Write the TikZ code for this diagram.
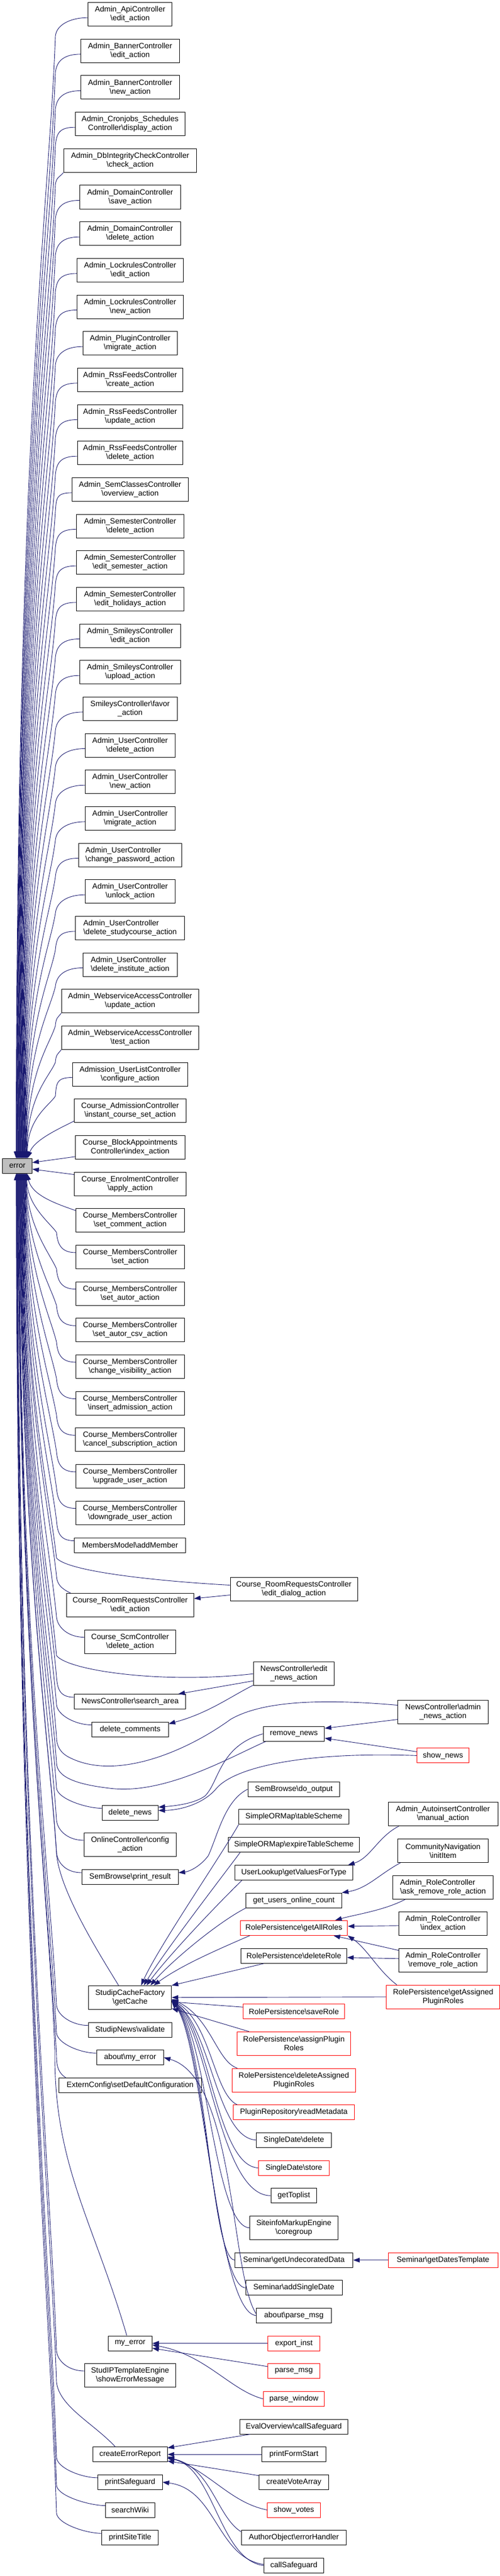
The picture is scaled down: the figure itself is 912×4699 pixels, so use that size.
\documentclass[tikz,border=0pt]{standalone}
\usepackage{fontspec}
\setmainfont{Liberation Sans}
\usetikzlibrary{arrows.meta,calc}
\definecolor{eblue}{RGB}{25,25,112}
\definecolor{nred}{RGB}{255,0,0}
\definecolor{errgray}{RGB}{191,191,191}
\newcommand\bsl{\textbackslash}
\newcommand\dfont{\fontsize{14}{16}\selectfont}
% upper edges into error (from west)
\newcommand\EU[3]{\draw[cedge] ($(#1.west)+(0,6)$) .. controls +(-30,0) and (103,{#2+18}) .. (101,{#2+40})
  .. controls (90,{#2+40+0.15*(2073-#2)}) and ({5+#3},{#2+40+0.35*(2073-#2)}) .. ($(error.north west)+(#3,0)$);}
% upper edges from wide nodes (south west corner)
\newcommand\EUc[3]{\draw[cedge] (#1.south west) .. controls +(-6,8) and (102,{#2+30}) .. (101,{#2+45})
  .. controls (90,{#2+45+0.15*(2068-#2)}) and ({5+#3},{#2+45+0.35*(2068-#2)}) .. ($(error.north west)+(#3,0)$);}
% lower edges into error
\newcommand\ED[3]{\draw[cedge] ($(#1.west)+(0,-8)$) .. controls +(-28,0) and (105,{#2-25}) .. (103,{#2-45})
  .. controls (92,{#2-45-0.15*(#2-2185)}) and ({5+#3},{#2-45-0.45*(#2-2185)}) .. ($(error.south west)+(#3,0)$);}
% lower edges with custom beginning ending at (103,#2)
\newcommand\EDX[3]{\draw[cedge] #1 .. controls (92,{#2-0.15*(#2-2140)}) and ({5+#3},{#2-0.45*(#2-2140)}) .. ($(error.south west)+(#3,0)$);}
\begin{document}
\begin{tikzpicture}[x=1pt,y=-1pt,
 bx/.style={draw=black, line width=1pt, fill=white, align=center, font=\dfont, inner xsep=2pt, inner ysep=1pt, minimum height=43pt},
 one/.style={minimum height=27pt},
 rbx/.style={bx, draw=nred},
 mw/.style={minimum width=#1pt},
 cedge/.style={draw=eblue, line width=0.9pt, -{Triangle[length=12pt,width=8.5pt]}}]
\fill[white] (0,0) rectangle (912,4699);
\useasboundingbox (0,0) rectangle (912,4699);

% ---------- left column ----------
\node[bx,mw=153.1] (a1) at (237.3,26.2) {Admin\_ApiController\\\bsl edit\_action};
\node[bx,mw=179.5] (a2) at (237.3,92.9) {Admin\_BannerController\\\bsl edit\_action};
\node[bx,mw=179.5] (a3) at (237.3,159.5) {Admin\_BannerController\\\bsl new\_action};
\node[bx,mw=199.9] (a4) at (237.3,226.2) {Admin\_Cronjobs\_Schedules\\Controller\bsl display\_action};
\node[bx,mw=242.6] (a5) at (237.3,292.9) {Admin\_DbIntegrityCheckController\\\bsl check\_action};
\node[bx,mw=183.5] (a6) at (237.3,359.5) {Admin\_DomainController\\\bsl save\_action};
\node[bx,mw=183.5] (a7) at (237.3,426.2) {Admin\_DomainController\\\bsl delete\_action};
\node[bx,mw=193.5] (a8) at (237.3,492.9) {Admin\_LockrulesController\\\bsl edit\_action};
\node[bx,mw=193.5] (a9) at (237.3,559.5) {Admin\_LockrulesController\\\bsl new\_action};
\node[bx,mw=171.9] (a10) at (237.3,626.2) {Admin\_PluginController\\\bsl migrate\_action};
\node[bx,mw=192.3] (a11) at (237.3,692.9) {Admin\_RssFeedsController\\\bsl create\_action};
\node[bx,mw=192.3] (a12) at (237.3,759.5) {Admin\_RssFeedsController\\\bsl update\_action};
\node[bx,mw=192.3] (a13) at (237.3,826.2) {Admin\_RssFeedsController\\\bsl delete\_action};
\node[bx,mw=212.2] (a14) at (237.3,892.9) {Admin\_SemClassesController\\\bsl overview\_action};
\node[bx,mw=196.4] (a15) at (237.3,959.5) {Admin\_SemesterController\\\bsl delete\_action};
\node[bx,mw=196.4] (a16) at (237.3,1026.2) {Admin\_SemesterController\\\bsl edit\_semester\_action};
\node[bx,mw=196.4] (a17) at (237.3,1092.9) {Admin\_SemesterController\\\bsl edit\_holidays\_action};
\node[bx,mw=183.5] (a18) at (237.3,1159.5) {Admin\_SmileysController\\\bsl edit\_action};
\node[bx,mw=183.5] (a19) at (237.3,1226.2) {Admin\_SmileysController\\\bsl upload\_action};
\node[bx,mw=171.9] (a20) at (237.3,1292.9) {SmileysController\bsl favor\\\_action};
\node[bx,mw=163.7] (a21) at (237.3,1359.5) {Admin\_UserController\\\bsl delete\_action};
\node[bx,mw=163.7] (a22) at (237.3,1426.2) {Admin\_UserController\\\bsl new\_action};
\node[bx,mw=163.7] (a23) at (237.3,1492.9) {Admin\_UserController\\\bsl migrate\_action};
\node[bx,mw=187.7,align=left] (a24) at (237.3,1559.5) {Admin\_UserController\\\bsl change\_password\_action};
\node[bx,mw=163.7] (a25) at (237.3,1626.2) {Admin\_UserController\\\bsl unlock\_action};
\node[bx,mw=198.7,align=left] (a26) at (237.3,1692.9) {Admin\_UserController\\\bsl delete\_studycourse\_action};
\node[bx,mw=171.9,align=left] (a27) at (237.3,1759.5) {Admin\_UserController\\\bsl delete\_institute\_action};
\node[bx,mw=250.3] (a28) at (237.3,1826.2) {Admin\_WebserviceAccessController\\\bsl update\_action};
\node[bx,mw=250.3] (a29) at (237.3,1892.9) {Admin\_WebserviceAccessController\\\bsl test\_action};
\node[bx,mw=210.5] (a30) at (237.3,1959.5) {Admission\_UserListController\\\bsl configure\_action};
\node[bx,mw=204] (a31) at (237.3,2026.2) {Course\_AdmissionController\\\bsl instant\_course\_set\_action};
\node[bx,mw=199.9] (a32) at (237.3,2092.9) {Course\_BlockAppointments\\Controller\bsl index\_action};
\node[bx,mw=204] (a33) at (237.3,2159.5) {Course\_EnrolmentController\\\bsl apply\_action};
\node[bx,mw=197.6] (a34) at (237.3,2226.2) {Course\_MembersController\\\bsl set\_comment\_action};
\node[bx,mw=197.6] (a35) at (237.3,2292.9) {Course\_MembersController\\\bsl set\_action};
\node[bx,mw=197.6] (a36) at (237.3,2359.5) {Course\_MembersController\\\bsl set\_autor\_action};
\node[bx,mw=197.6] (a37) at (237.3,2426.2) {Course\_MembersController\\\bsl set\_autor\_csv\_action};
\node[bx,mw=197.6] (a38) at (237.3,2492.9) {Course\_MembersController\\\bsl change\_visibility\_action};
\node[bx,mw=197.6] (a39) at (237.3,2559.5) {Course\_MembersController\\\bsl insert\_admission\_action};
\node[bx,mw=198.7] (a40) at (237.3,2626.2) {Course\_MembersController\\\bsl cancel\_subscription\_action};
\node[bx,mw=197.6] (a41) at (237.3,2692.9) {Course\_MembersController\\\bsl upgrade\_user\_action};
\node[bx,mw=197.6] (a42) at (237.3,2759.5) {Course\_MembersController\\\bsl downgrade\_user\_action};
\node[bx,one,mw=202.9] (addm) at (237.3,2818.5) {MembersModel\bsl addMember};
\node[bx,mw=232] (rre) at (237.3,2928) {Course\_RoomRequestsController\\\bsl edit\_action};
\node[bx,mw=166.6] (scm) at (237.3,2994.5) {Course\_ScmController\\\bsl delete\_action};
\node[bx,one,mw=202.9] (sa) at (237.3,3104) {NewsController\bsl search\_area};
\node[bx,one,mw=139.7] (dc) at (237.3,3154.5) {delete\_comments};
\node[bx,one,mw=102.3] (dn) at (237.3,3306.5) {delete\_news};
\node[bx,mw=167.8] (occ) at (237.3,3365) {OnlineController\bsl config\\\_action};
\node[bx,one,mw=175.5] (spr) at (237.3,3424) {SemBrowse\bsl print\_result};
\node[bx,mw=150.8] (gc) at (237.3,3643.7) {StudipCacheFactory\\\bsl getCache};
\node[bx,one,mw=151.4] (snv) at (237.3,3702.7) {StudipNews\bsl validate};
\node[bx,one,mw=122.2] (ame) at (237.3,3753.2) {about\bsl my\_error};
\node[bx,one,mw=260.1] (ecd) at (237.3,3803.8) {ExternConfig\bsl setDefaultConfiguration};
\node[bx,one,mw=80.1] (me) at (237.3,4274.5) {my\_error};
\node[bx,mw=165.5] (tem) at (237.3,4333) {StudIPTemplateEngine\\\bsl showErrorMessage};
\node[bx,one,mw=135.7] (cer) at (237.3,4477.2) {createErrorReport};
\node[bx,one,mw=117.5] (ps) at (237.3,4527.8) {printSafeguard};
\node[bx,one,mw=90] (sw) at (237.3,4578.5) {searchWiki};
\node[bx,one,mw=102.9] (pst) at (237.3,4629.2) {printSiteTitle};

\node[bx,one,mw=53.5,fill=errgray] (error) at (31.7,2126.7) {error};

% ---------- middle column ----------
\node[bx,mw=232] (rrd) at (536,2898.5) {Course\_RoomRequestsController\\\bsl edit\_dialog\_action};
\node[bx,mw=147.9] (nen) at (536,3053.2) {NewsController\bsl edit\\\_news\_action};
\node[bx,one,mw=111.6] (rn) at (536,3162.7) {remove\_news};
\node[bx,one,mw=167.8] (sdo) at (536,3263.8) {SemBrowse\bsl do\_output};
\node[bx,one,mw=200.5] (ots) at (536,3314.3) {SimpleORMap\bsl tableScheme};
\node[bx,one,mw=239.1] (oets) at (536,3365.2) {SimpleORMap\bsl expireTableScheme};
\node[bx,one,mw=214.5] (ul) at (536,3416) {UserLookup\bsl getValuesForType};
\node[bx,one,mw=174.2] (guoc) at (536,3466.5) {get\_users\_online\_count};
\node[rbx,one,mw=195.8] (gar) at (536,3516.8) {RolePersistence\bsl getAllRoles};
\node[bx,one,mw=193] (dr) at (536,3567.8) {RolePersistence\bsl deleteRole};
\node[rbx,one,mw=184.8] (sr) at (536,3669.2) {RolePersistence\bsl saveRole};
\node[rbx,mw=206.4] (apr) at (536,3727.8) {RolePersistence\bsl assignPlugin\\Roles};
\node[rbx,mw=225.7] (dapr) at (536,3794.5) {RolePersistence\bsl deleteAssigned\\PluginRoles};
\node[rbx,one,mw=221.6] (prm) at (536,3853.3) {PluginRepository\bsl readMetadata};
\node[bx,one,mw=136.3] (sdd) at (536,3903.8) {SingleDate\bsl delete};
\node[rbx,one,mw=129.8] (sds) at (536,3954.5) {SingleDate\bsl store};
\node[bx,one,mw=83.6] (gtl) at (536,4005.2) {getToplist};
\node[bx,mw=161.4] (sme) at (536,4063.8) {SiteinfoMarkupEngine\\\bsl coregroup};
\node[bx,one,mw=215.2] (sgu) at (536,4122.7) {Seminar\bsl getUndecoratedData};
\node[bx,one,mw=176] (sas) at (536,4173.2) {Seminar\bsl addSingleDate};
\node[bx,one,mw=136.3] (apm) at (536,4223.8) {about\bsl parse\_msg};
\node[rbx,one,mw=94.2] (ei) at (536,4274.5) {export\_inst};
\node[rbx,one,mw=94.2] (pm) at (536,4324.9) {parse\_msg};
\node[rbx,one,mw=111.6] (pw) at (536,4375.8) {parse\_window};
\node[bx,one,mw=197] (eoc) at (536,4426.5) {EvalOverview\bsl callSafeguard};
\node[bx,one,mw=116.4] (pfs) at (536,4477.2) {printFormStart};
\node[bx,one,mw=126.8] (cva) at (536,4527.8) {createVoteArray};
\node[rbx,one,mw=96.4] (svo) at (536,4578.5) {show\_votes};
\node[bx,one,mw=191.8] (aoe) at (536,4629.2) {AuthorObject\bsl errorHandler};
\node[bx,one,mw=109.4] (cs) at (536,4679.8) {callSafeguard};

% ---------- right column ----------
\node[bx,mw=164.3] (nan) at (808,3122.5) {NewsController\bsl admin\\\_news\_action};
\node[rbx,one,mw=94.1] (sn) at (808,3202.4) {show\_news};
\node[bx,mw=200] (aim) at (808,3309.2) {Admin\_AutoinsertController\\\bsl manual\_action};
\node[bx,mw=164.3] (cni) at (808,3376) {CommunityNavigation\\\bsl initItem};
\node[bx,mw=182.4,align=left] (arr) at (808,3442.7) {Admin\_RoleController\\\bsl ask\_remove\_role\_action};
\node[bx,mw=160.2] (ari) at (808,3508.7) {Admin\_RoleController\\\bsl index\_action};
\node[bx,mw=160.2] (arm) at (808,3575.8) {Admin\_RoleController\\\bsl remove\_role\_action};
\node[rbx,mw=207.5] (gapr) at (808.2,3642.7) {RolePersistence\bsl getAssigned\\PluginRoles};
\node[rbx,one,mw=200] (sgd) at (808,4122.7) {Seminar\bsl getDatesTemplate};

% ---------- edges into error (upper) ----------
\EU{a1}{26.2}{25}
\EU{a2}{92.9}{25.7}
\EU{a3}{159.5}{26.4}
\EU{a4}{226.2}{27.1}
\EUc{a5}{292.9}{27.8}
\EU{a6}{359.5}{28.5}
\EU{a7}{426.2}{29.2}
\EU{a8}{492.9}{29.9}
\EU{a9}{559.5}{30.6}
\EU{a10}{626.2}{31.3}
\EU{a11}{692.9}{32}
\EU{a12}{759.5}{32.7}
\EU{a13}{826.2}{33.4}
\EU{a14}{892.9}{34.1}
\EU{a15}{959.5}{34.8}
\EU{a16}{1026.2}{35.5}
\EU{a17}{1092.9}{36.2}
\EU{a18}{1159.5}{36.9}
\EU{a19}{1226.2}{37.6}
\EU{a20}{1292.9}{38.3}
\EU{a21}{1359.5}{39}
\EU{a22}{1426.2}{39.7}
\EU{a23}{1492.9}{40.4}
\EU{a24}{1559.5}{41.1}
\EU{a25}{1626.2}{41.8}
\EU{a26}{1692.9}{42.5}
\EU{a27}{1759.5}{43.2}
\EUc{a28}{1826.2}{43.9}
\EUc{a29}{1892.9}{44.6}
\EU{a30}{1959.5}{45.3}
\draw[cedge] ($(a31.south west)+(0,-3)$) .. controls (105,2060) and (62,2080) .. ($(error.north west)+(46,0)$);
\draw[cedge] ($(a32.south west)+(0,-5)$) -- ($(error.east)+(0,-6)$);
\draw[cedge] ($(a33.north west)+(0,5)$) -- ($(error.east)+(0,6)$);
\draw[cedge] ($(a34.north west)+(0,4)$) .. controls (100,2195) and (58,2180) .. ($(error.south west)+(45,0)$);

% ---------- edges into error (lower) ----------
\ED{a35}{2292.9}{44.3}
\ED{a36}{2359.5}{43.6}
\ED{a37}{2426.2}{43}
\ED{a38}{2492.9}{42.3}
\ED{a39}{2559.5}{41.6}
\ED{a40}{2626.2}{41}
\ED{a41}{2692.9}{40.3}
\ED{a42}{2759.5}{39.6}
\ED{addm}{2818.5}{39}
\EDX{($(rrd.west)+(0,-7)$) .. controls (300,2885) and (125,2868) .. (103,2842)}{2842}{38.3}
\EDX{($(rre.north west)+(8,0)$) .. controls (112,2898) and (104,2890) .. (103,2875)}{2875}{37.6}
\ED{scm}{2994.5}{37}
\EDX{(nen.west) .. controls (300,3072) and (125,3048) .. (103,3020)}{3020}{36.3}
\ED{sa}{3104}{35.6}
\ED{dc}{3154.5}{35}
\EDX{($(nan.west)+(0,-12)$) .. controls (560,3096) and (470,3108) .. (421,3136) .. controls (340,3195) and (210,3250) .. (125,3205) .. controls (110,3197) and (103,3185) .. (103,3168)}{3168}{34.3}
\EDX{($(rn.south west)+(5,0)$) .. controls (420,3205) and (300,3275) .. (200,3262) .. controls (140,3255) and (103,3242) .. (103,3215)}{3215}{33.6}
\ED{dn}{3306.5}{33}
\ED{occ}{3365}{32.3}
\EDX{($(gc.north)+(-21,0)$) .. controls (185,3570) and (108,3450) .. (103,3380)}{3380}{31.6}
\ED{spr}{3424}{31}
\ED{snv}{3702.7}{30.3}
\ED{ame}{3753.2}{29.6}
\EDX{($(ecd.north west)+(13,0)$) .. controls (108,3782) and (103,3772) .. (103,3750)}{3750}{29}
\EDX{($(me.north)+(-6,0)$) .. controls (170,4050) and (98,3950) .. (100,3740)}{3740}{28.3}
\ED{tem}{4333}{27.6}
\EDX{($(cer.north)+(-27,0)$) .. controls (170,4420) and (108,4390) .. (103,4345)}{4345}{27}
\ED{ps}{4527.8}{26.4}
\ED{sw}{4578.5}{25.8}
\ED{pst}{4629.2}{25.2}

% ---------- other edges ----------
\draw[cedge] ($(rrd.west)+(0,11)$) -- ($(rre.east)+(0,-12)$);
\draw[cedge] ($(nen.west)+(0,13)$) -- ($(sa.north east)+(-14,0)$);
\draw[cedge] ($(nen.south west)+(0,-1)$) .. controls (420,3095) and (380,3125) .. ($(dc.east)+(0,-10)$);
\draw[cedge] ($(nan.south west)+(0,-8)$) -- ($(rn.east)+(0,-10)$);
\draw[cedge] ($(sn.west)+(0,-7)$) -- ($(rn.east)+(0,8)$);
\draw[cedge] (rn.west) .. controls (400,3185) and (400,3250) .. (374,3276) .. controls (355,3290) and (320,3294) .. ($(dn.east)+(0,-10)$);
\draw[cedge] (sn.west) .. controls (560,3195) and (430,3222) .. (395,3262) .. controls (372,3290) and (330,3302) .. ($(dn.east)+(0,-4)$);
\draw[cedge] (sdo.west) .. controls (410,3285) and (398,3345) .. (380,3385) .. controls (365,3405) and (345,3414) .. ($(spr.east)+(0,-8)$);

\draw[cedge] (ots.south west) .. controls (400,3390) and (290,3550) .. ($(gc.north)+(20,0)$);
\draw[cedge] ($(oets.south west)+(22,0)$) .. controls (400,3430) and (300,3560) .. ($(gc.north)+(25,0)$);
\draw[cedge] ($(ul.south west)+(13,0)$) .. controls (395,3475) and (305,3570) .. ($(gc.north)+(30,0)$);
\draw[cedge] (guoc.south west) .. controls (400,3505) and (315,3575) .. ($(gc.north)+(37,0)$);
\draw[cedge] ($(gar.south west)+(18,0)$) .. controls (400,3555) and (330,3585) .. ($(gc.north)+(43,0)$);
\draw[cedge] ($(dr.south west)+(42,0)$) -- (gc.north east);
\draw[cedge] (gapr.west) -- (gc.east);
\draw[cedge] ($(sr.west)+(0,-8)$) -- ($(gc.east)+(0,8)$);
\draw[cedge] ($(apr.north west)+(22,0)$) -- ($(gc.south east)+(0,-2)$);
\draw[cedge] ($(dapr.north west)+(10,0)$) .. controls (395,3760) and (385,3680) .. ($(gc.east)+(0,3)$);
\draw[cedge] ($(prm.north west)+(8,0)$) .. controls (390,3820) and (385,3690) .. ($(gc.east)+(0,4)$);
\draw[cedge] (sdd.west) .. controls (395,3900) and (385,3700) .. ($(gc.east)+(0,5)$);
\draw[cedge] (sds.west) .. controls (395,3950) and (382,3700) .. ($(gc.east)+(0,5)$);
\draw[cedge] (gtl.west) .. controls (400,4005) and (380,3705) .. ($(gc.east)+(0,6)$);
\draw[cedge] (sme.west) .. controls (390,4060) and (378,3710) .. ($(gc.east)+(0,6)$);
\draw[cedge] (sgu.west) .. controls (385,4120) and (375,3712) .. ($(gc.east)+(0,7)$);
\draw[cedge] (sas.west) .. controls (390,4170) and (372,3715) .. ($(gc.east)+(0,7)$);
\draw[cedge] (apm.west) .. controls (395,4220) and (370,3718) .. ($(gc.east)+(0,8)$);
\draw[cedge] ($(apm.west)+(0,-3)$) .. controls (420,4150) and (430,3790) .. (ame.east);

\draw[cedge] ($(aim.south west)+(20,0)$) .. controls (690,3350) and (675,3390) .. ($(ul.north east)+(-9,0)$);
\draw[cedge] ($(cni.south west)+(5,0)$) .. controls (690,3420) and (670,3445) .. (guoc.north east);
\draw[cedge] ($(arr.south west)+(23,0)$) .. controls (700,3485) and (650,3492) .. ($(gar.north east)+(-23,0)$);
\draw[cedge] ($(ari.west)+(0,4)$) -- ($(gar.east)+(0,-3)$);
\draw[cedge] ($(arm.west)+(0,-18)$) -- ($(gar.south east)+(-26,0)$);
\draw[cedge] ($(arm.west)+(0,-3)$) -- ($(dr.east)+(0,3)$);
\draw[cedge] ($(gapr.north west)+(20,0)$) .. controls (690,3595) and (670,3555) .. (gar.south east);
\draw[cedge] (sgd.west) -- (sgu.east);

\draw[cedge] (ei.west) -- (me.east);
\draw[cedge] ($(pm.west)+(0,-8)$) -- ($(me.east)+(0,9)$);
\draw[cedge] (pw.west) .. controls (420,4360) and (375,4295) .. ($(me.east)+(0,3)$);

\draw[cedge] ($(eoc.south west)+(19,0)$) -- ($(cer.east)+(0,-12)$);
\draw[cedge] (pfs.west) -- (cer.east);
\draw[cedge] ($(cva.north west)+(0,2)$) -- ($(cer.east)+(0,12)$);
\draw[cedge] (svo.west) .. controls (420,4565) and (385,4510) .. ($(cer.east)+(0,4)$);
\draw[cedge] ($(aoe.north west)+(0,3)$) .. controls (395,4590) and (385,4500) .. ($(cer.east)+(0,6)$);
\draw[cedge] (cs.west) .. controls (400,4670) and (390,4500) .. ($(cer.east)+(0,7)$);
\draw[cedge] ($(cs.west)+(0,-2)$) .. controls (395,4665) and (395,4540) .. (ps.east);
\end{tikzpicture}
\end{document}
